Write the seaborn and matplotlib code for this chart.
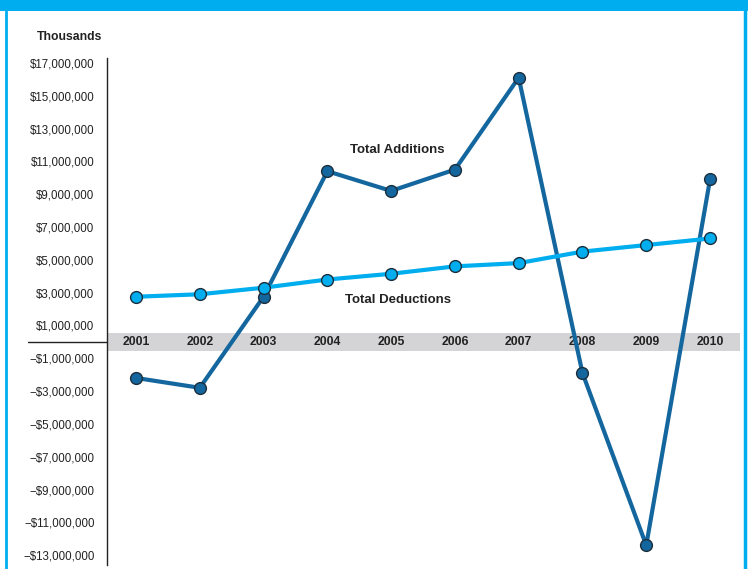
import pandas as pd
import seaborn as sns
import matplotlib.pyplot as plt
from matplotlib.lines import Line2D
from matplotlib.patches import Rectangle
from matplotlib.ticker import FuncFormatter

# values in millions of dollars (axis labelled "Thousands")
years = [2001, 2002, 2003, 2004, 2005, 2006, 2007, 2008, 2009, 2010]
total_additions = [-2.2, -2.8, 2.75, 10.4, 9.2, 10.5, 16.1, -1.9, -12.4, 9.9]
total_deductions = [2.75, 2.9, 3.3, 3.8, 4.15, 4.6, 4.8, 5.5, 5.9, 6.3]
y_ticks = [17, 15, 13, 11, 9, 7, 5, 3, 1, -1, -3, -5, -7, -9, -11, -13]

dark_blue = "#14679e"
light_blue = "#00aeef"

df = pd.DataFrame({"year": years * 2,
                   "value": total_additions + total_deductions,
                   "series": ["Total Additions"] * len(years) + ["Total Deductions"] * len(years)})

sns.set_style("white")
plt.rcParams['font.family'] = ['Liberation Sans', 'DejaVu Sans']

W, H = 748, 569
fig = plt.figure(figsize=(W / 100, H / 100), dpi=100)
ax = fig.add_axes([107 / W, 1 - 565 / H, (740 - 107) / W, (565 - 58) / H])

# grey band behind the year labels
ax.axhspan(-0.55, 0.55, color="#d4d4d6", zorder=0, lw=0)

sns.lineplot(data=df, x="year", y="value", hue="series",
             palette={"Total Additions": dark_blue, "Total Deductions": light_blue},
             marker="o", markersize=8.5, markeredgecolor="#1c2e3c", markeredgewidth=1,
             linewidth=3, legend=False, ax=ax, zorder=3)

ax.set_xlim(2000.545, 2010.47)
ax.set_ylim(-13.6, 17.3)
ax.set_yticks(y_ticks)


def money(v, pos):
    s = "${:,.0f}".format(abs(v) * 1e6)
    return s if v > 0 else "\u2212" + s


ax.yaxis.set_major_formatter(FuncFormatter(money))
ax.tick_params(axis="y", length=0, pad=9, labelsize=8.3, labelcolor="#222222")
ax.set_xticks([])
ax.set_xlabel("")
ax.set_ylabel("")
for s in ["top", "right", "bottom"]:
    ax.spines[s].set_visible(False)
ax.spines["left"].set_color("#222222")
ax.spines["left"].set_linewidth(1)

for yr in years:
    ax.text(yr, 0, str(yr), ha="center", va="center", fontsize=8.8,
            fontweight="bold", color="#222222", zorder=2)

ax.text(2005.1, 11.7, "Total Additions", ha="center", va="center",
        fontsize=9.5, fontweight="bold", color="#222222")
ax.text(2005.1, 2.55, "Total Deductions", ha="center", va="center",
        fontsize=9.5, fontweight="bold", color="#222222")

# zero line extends under the tick labels
fig.add_artist(Line2D([28 / W, 107 / W], [1 - 342 / H, 1 - 342 / H],
                      color="#222222", lw=1))

fig.text(70 / W, 1 - 37 / H, "Thousands", ha="center", va="center",
         fontsize=8.8, fontweight="bold", color="#222222")

# cyan frame of the panel
fig.add_artist(Rectangle((0, 1 - 11 / H), 1, 11 / H, color=light_blue, lw=0))
fig.add_artist(Line2D([6 / W, 6 / W], [0, 1 - 11 / H], color=light_blue, lw=2))
fig.add_artist(Line2D([745 / W, 745 / W], [0, 1 - 11 / H], color=light_blue, lw=2.5))

plt.savefig("out.png", dpi=100)
plt.close()
